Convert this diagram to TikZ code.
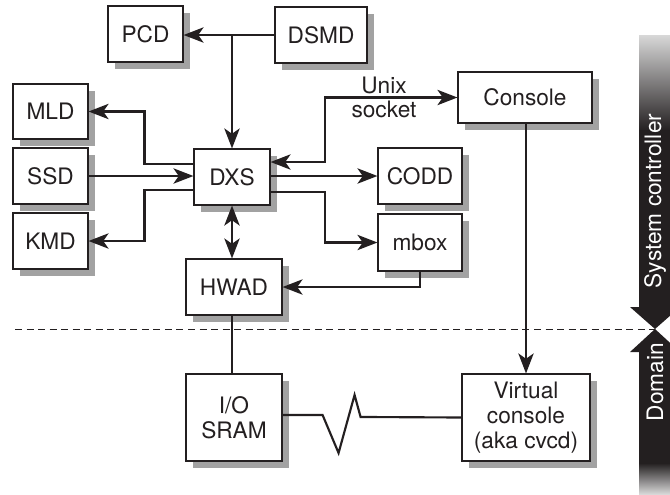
\documentclass[tikz,border=0pt]{standalone}
\usepackage{fontspec}
\setmainfont{TeX Gyre Heros}
\usetikzlibrary{arrows.meta,shadows}
\definecolor{ink}{HTML}{231F20}
\definecolor{shadowgray}{HTML}{A2A2A2}
\definecolor{fadegray}{HTML}{D8D8D8}
\begin{document}
\begin{tikzpicture}[x=0.75pt,y=-0.75pt,
  box/.style={draw=ink, line width=0.85pt, fill=white, inner sep=0pt, align=center,
    font=\fontsize{17}{18.5}\selectfont, text=ink,
    drop shadow={shadow xshift=5pt, shadow yshift=-5pt, fill=shadowgray, opacity=1}},
  sz/.style 2 args={minimum width=#1*0.75pt, minimum height=#2*0.75pt},
  lbl/.style={align=center, inner sep=0pt, font=\fontsize{17}{18.5}\selectfont, text=ink},
  bartext/.style={rotate=90, inner sep=0pt, text=white, font=\fontsize{17}{18.5}\selectfont},
  conn/.style={draw=ink, line width=1.6pt},
  arr/.style={conn, -{Stealth[length=15pt,width=11.5pt,inset=4pt]}},
  darr/.style={conn, {Stealth[length=15pt,width=11.5pt,inset=4pt]}-{Stealth[length=15pt,width=11.5pt,inset=4pt]}},
  divider/.style={draw=ink, line width=0.75pt, dash pattern=on 5.25pt off 3.4pt},
]
\path[use as bounding box, clip] (0,0) rectangle (670,494);

% dashed divider
\coordinate (dl1) at (15,329);
\coordinate (dl2) at (655,329);
\draw[divider] (dl1) -- (dl2);

% side bar
\shade[top color=fadegray, bottom color=ink] (639,35) rectangle (671,131);
\fill[ink] (639,130) -- (639,307) -- (630,307) -- (655,329) -- (680,307) -- (671,307) -- (671,130) -- cycle;
\fill[ink] (655,329) -- (630,352) -- (639,352) -- (639,464) -- (671,464) -- (671,352) -- (680,352) -- cycle;
\shade[top color=ink, bottom color=fadegray] (639,463) rectangle (671,494);
\node[bartext] (sc) at (655,201) {System controller};
\node[bartext] (dom) at (655,382) {Domain};

% boxes
\node[box, sz={75}{56}] (PCD) at (145.5,34) {PCD};
\node[box, sz={92}{56}] (DSMD) at (321,35) {DSMD};
\node[box, sz={75}{55}] (MLD) at (50.5,111.5) {MLD};
\node[box, sz={75}{56}] (SSD) at (50.5,176) {SSD};
\node[box, sz={75}{56}] (KMD) at (50.5,241) {KMD};
\node[box, sz={76}{56}] (DXS) at (232,177) {DXS};
\node[box, sz={134}{51}] (Console) at (525,97.5) {Console};
\node[box, sz={84}{56}] (CODD) at (420,176) {CODD};
\node[box, sz={84}{57}] (mbox) at (420,242.5) {mbox};
\node[box, sz={96}{56}] (HWAD) at (234,287) {HWAD};
\node[box, sz={96}{87}] (IO) at (234,417.5) {I/O\\SRAM};
\node[box, sz={128}{87}] (VC) at (526,417.5) {Virtual\\console\\(aka cvcd)};

\node[lbl] (unix) at (384,97.5) {Unix\\socket};

% connectors
\coordinate (jtop) at (DSMD.west -| DXS.north);
\draw[arr] (DSMD.west) -- (DSMD.west -| PCD.east);
\draw[arr] (jtop) -- (DXS.north);
\draw[arr] ([yshift=9.75pt]DXS.west) -- ++(-49,0) |- (MLD.east);
\draw[arr] (SSD.east) -- (SSD.east -| DXS.west);
\draw[arr] ([yshift=-9.75pt]DXS.west) -- ++(-49,0) |- (KMD.east);
\draw[arr] (DXS.east |- CODD.west) -- (CODD.west);
\draw[arr] ([yshift=-11.25pt]DXS.east) -- ++(54,0) |- (mbox.west);
\draw[darr] ([yshift=11.25pt]DXS.east) -- ++(54,0) |- (Console.west);
\draw[darr] (DXS.south) -- (DXS.south |- HWAD.north);
\draw[arr] (mbox.south) |- (HWAD.east);
\draw[arr] (Console.south -| VC.north) -- (VC.north);
\draw[conn] (HWAD.south -| DXS.south) -- (IO.north -| DXS.south);
\draw[conn] ([yshift=1.9pt]IO.east) -- ++(40,0) -- ++(16,38) -- ++(16,-58) -- ++(6,22) -- (VC.west);
\end{tikzpicture}
\end{document}
